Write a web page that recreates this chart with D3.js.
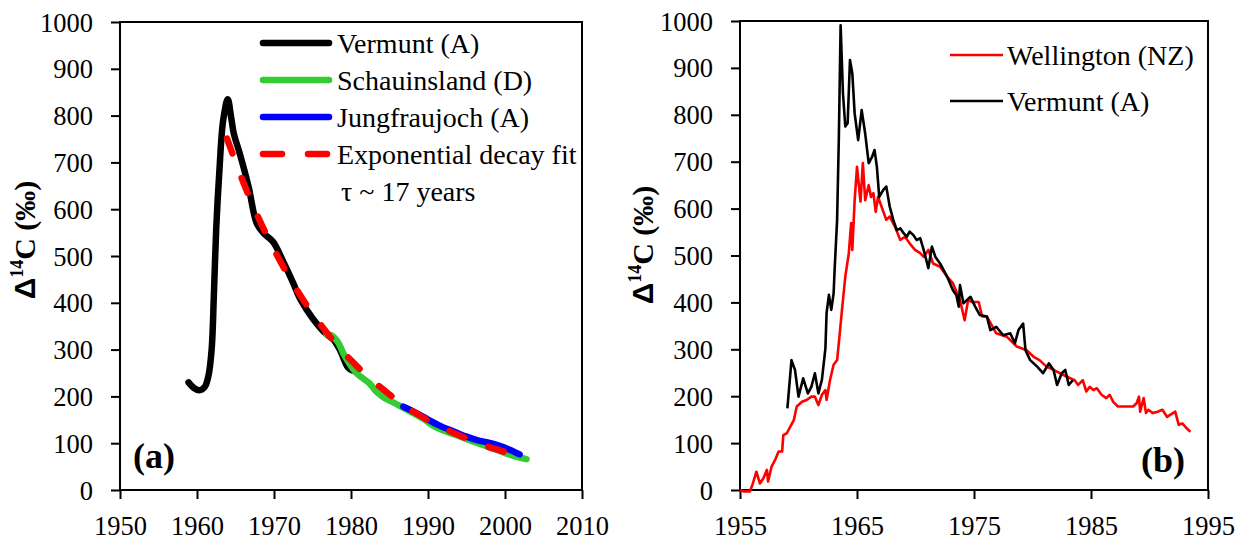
<!DOCTYPE html>
<html>
<head>
<meta charset="utf-8">
<script src="https://cdn.jsdelivr.net/npm/d3@7"></script>
<style>
  html, body { margin: 0; padding: 0; background: #fff; }
  svg { display: block; }
</style>
</head>
<body>
<svg id="chart" width="1245" height="547"></svg>
<script>
// ---- Panel (a): smoothed station records and exponential decay fit ----
const aVermunt = [
  [1958.9, 230], [1959.6, 218], [1960.3, 213], [1961.0, 220], [1961.5, 245],
  [1961.9, 300], [1962.2, 420], [1962.5, 560], [1962.9, 680], [1963.4, 790],
  [1964.0, 835], [1964.4, 800], [1964.8, 760], [1965.5, 722], [1966.7, 648],
  [1967.75, 570], [1968.7, 548], [1969.9, 530], [1971.2, 488], [1972.5, 442],
  [1973.4, 408], [1975.1, 365], [1976.8, 333], [1977.7, 322], [1978.6, 298],
  [1979.6, 262], [1980.2, 255]
];
const aSchauinsland = [
  [1976.8, 333], [1977.4, 331], [1978.3, 316], [1979.0, 292], [1979.8, 270],
  [1980.7, 250], [1981.6, 238], [1982.4, 228], [1983.3, 210], [1984.4, 196],
  [1985.3, 189], [1987.2, 172], [1989.4, 152], [1990.7, 137], [1992.5, 124],
  [1994.2, 114], [1996.3, 101], [1998.9, 86], [2001.1, 73], [2002.8, 66]
];
const aJungfraujoch = [
  [1986.8, 178], [1987.7, 171], [1989.4, 156], [1991.6, 137], [1993.5, 124],
  [1995.0, 114], [1996.5, 106], [1997.6, 102], [1999.4, 94], [2000.6, 86],
  [2001.9, 76]
];
const aDecayFit = [
  [1963.9, 751], [1966, 658], [1968, 581], [1970, 514], [1972.5, 440],
  [1975, 377], [1977.5, 323], [1980, 277], [1982.5, 238], [1985, 204],
  [1987.5, 174], [1990, 149], [1992.5, 128], [1995, 110], [1997.5, 94],
  [2000, 81], [2002.8, 68]
];
const aLegend = ["Vermunt (A)", "Schauinsland (D)", "Jungfraujoch (A)", "Exponential decay fit"];
const aLegendNote = "τ ~ 17 years";
const aXTicks = [1950, 1960, 1970, 1980, 1990, 2000, 2010];

// ---- Panel (b): monthly records, Wellington and Vermunt ----
const bWellington = [
  [1955.0, 0], [1955.3, -3], [1955.85, -3], [1956.1, 14], [1956.4, 39], [1956.7, 14],
  [1957.0, 25], [1957.3, 43], [1957.4, 18], [1957.7, 50], [1958.0, 64], [1958.3, 82],
  [1958.6, 82], [1958.7, 117], [1959.0, 121], [1959.3, 135], [1959.6, 149], [1959.85, 178],
  [1960.3, 188], [1960.7, 192], [1961.1, 199], [1961.4, 199], [1961.7, 181], [1962.0, 203],
  [1962.3, 213], [1962.4, 192], [1962.7, 235], [1963.0, 267], [1963.3, 277], [1963.5, 327],
  [1963.7, 380], [1964.0, 455], [1964.3, 505], [1964.5, 569], [1964.6, 512], [1964.8, 618],
  [1965.0, 689], [1965.3, 615], [1965.5, 697], [1965.7, 618], [1966.0, 650], [1966.2, 625],
  [1966.4, 633], [1966.6, 593], [1966.8, 625], [1967.1, 604], [1967.5, 576], [1967.8, 583],
  [1968.25, 561], [1968.7, 533], [1969.1, 540], [1969.5, 526], [1969.96, 512], [1970.4, 505],
  [1970.7, 497], [1971.1, 512], [1971.5, 483], [1972.1, 476], [1972.7, 455], [1973.2, 441],
  [1973.8, 405], [1974.2, 362], [1974.5, 405], [1974.8, 401], [1975.4, 401], [1975.7, 370],
  [1976.1, 370], [1976.9, 334], [1977.8, 327], [1978.65, 306], [1979.5, 298], [1980.1, 284],
  [1980.6, 277], [1981.2, 263], [1981.8, 256], [1982.9, 242], [1983.6, 234], [1983.9, 224],
  [1984.3, 234], [1984.6, 210], [1984.9, 220], [1985.2, 213], [1985.5, 217], [1985.9, 203],
  [1986.3, 196], [1986.6, 203], [1986.9, 188], [1987.3, 178], [1988.05, 178], [1988.6, 178],
  [1988.9, 185], [1989.1, 199], [1989.2, 167], [1989.5, 196], [1989.7, 164], [1989.9, 171],
  [1990.3, 164], [1990.7, 167], [1991.1, 171], [1991.5, 156], [1992.0, 164], [1992.2, 167],
  [1992.5, 139], [1992.8, 142], [1993.2, 131], [1993.5, 124]
];
const bVermunt = [
  [1959.05, 174], [1959.4, 277], [1959.7, 256], [1960.0, 199], [1960.4, 238], [1960.8, 206],
  [1961.1, 220], [1961.4, 249], [1961.7, 206], [1962.0, 235], [1962.3, 302], [1962.4, 377],
  [1962.6, 416], [1962.8, 384], [1963.0, 419], [1963.1, 476], [1963.3, 576], [1963.45, 753],
  [1963.6, 991], [1963.8, 846], [1964.0, 775], [1964.2, 782], [1964.4, 917], [1964.6, 888],
  [1964.8, 803], [1965.1, 746], [1965.4, 810], [1965.7, 760], [1966.0, 697], [1966.3, 711],
  [1966.5, 725], [1966.7, 689], [1966.9, 625], [1967.25, 640], [1967.5, 647], [1967.8, 604],
  [1968.1, 576], [1968.4, 554], [1968.7, 558], [1969.0, 547], [1969.25, 540], [1969.5, 551],
  [1969.8, 544], [1970.1, 533], [1970.4, 537], [1970.7, 512], [1971.1, 473], [1971.4, 519],
  [1971.7, 497], [1972.1, 483], [1972.7, 455], [1973.2, 426], [1973.5, 415], [1973.7, 391],
  [1973.8, 437], [1974.1, 398], [1974.7, 412], [1975.1, 391], [1975.5, 373], [1976.1, 370],
  [1976.4, 341], [1976.9, 348], [1977.5, 330], [1978.1, 334], [1978.5, 313], [1978.8, 341],
  [1979.2, 355], [1979.4, 298], [1979.8, 277], [1980.4, 263], [1980.9, 249], [1981.4, 270],
  [1981.8, 256], [1982.1, 224], [1982.5, 249], [1982.8, 256], [1983.1, 224], [1983.45, 234]
];
const bLegend = ["Wellington (NZ)", "Vermunt (A)"];
const bXTicks = [1955, 1965, 1975, 1985, 1995];

const yTicks = [0, 100, 200, 300, 400, 500, 600, 700, 800, 900, 1000];

const SERIF = "'Liberation Serif', 'DejaVu Serif', serif";
const SANS = "'Liberation Sans', 'DejaVu Sans', sans-serif";

const svg = d3.select("#chart");

// Axes frame, ticks and labels for one panel; returns its scales
function drawFrame(p) {
  const x = d3.scaleLinear().domain(p.xDomain).range([p.left, p.right]);
  const y = d3.scaleLinear().domain([0, 1000]).range([p.bottom, p.top]);
  const g = svg.append("g");

  // frame box
  g.append("rect")
    .attr("x", p.left).attr("y", p.top)
    .attr("width", p.right - p.left).attr("height", p.bottom - p.top)
    .attr("fill", "none").attr("stroke", "#000").attr("stroke-width", 2);

  const xAxis = d3.axisBottom(x).tickValues(p.xTicks).tickSize(9).tickPadding(17).tickFormat(d3.format("d"));
  const gx = g.append("g").attr("transform", `translate(0,${p.bottom})`).call(xAxis);
  const yAxis = d3.axisLeft(y).tickValues(yTicks).tickSize(9).tickPadding(18).tickFormat(d3.format("d"));
  const gy = g.append("g").attr("transform", `translate(${p.left},0)`).call(yAxis);

  [gx, gy].forEach(a => {
    a.select(".domain").remove();
    a.selectAll(".tick line").attr("stroke", "#000").attr("stroke-width", 2);
    a.selectAll(".tick text")
      .style("font-family", SERIF)
      .style("font-size", "26.5px").style("fill", "#000");
  });
  gy.selectAll(".tick text").attr("dy", "0.34em");

  // y axis title: Δ14C (‰)
  const t = g.append("text")
    .attr("transform", `translate(${p.titleX},${p.titleY}) rotate(-90)`)
    .attr("text-anchor", "middle")
    .style("font-family", SERIF)
    .style("font-weight", "bold")
    .style("font-size", "30px");
  t.append("tspan").style("font-family", SANS).text("Δ");
  t.append("tspan").style("font-size", "18px").attr("dy", -12).text("14");
  t.append("tspan").attr("dy", 12).text("C (‰)");

  // panel tag
  g.append("text")
    .attr("x", p.tagX).attr("y", p.tagY)
    .style("font-family", SERIF)
    .style("font-weight", "bold").style("font-size", "36px")
    .text(p.tag);

  return { x, y };
}

// ---------- Panel (a) ----------
const pa = drawFrame({
  xDomain: [1950, 2010], left: 120, right: 582, top: 22, bottom: 490,
  xTicks: aXTicks, titleX: 35, titleY: 240, tag: "(a)", tagX: 133, tagY: 468
});

const smooth = d3.line()
  .x(d => pa.x(d[0])).y(d => pa.y(d[1]))
  .curve(d3.curveCatmullRom.alpha(0.5));

const aSeries = [
  { data: aVermunt, color: "#000000", dash: null },
  { data: aSchauinsland, color: "#33cc33", dash: null },
  { data: aJungfraujoch, color: "#0000ff", dash: null },
  { data: aDecayFit, color: "#ff0000", dash: "16 26" }
];

aSeries.forEach(s => {
  svg.append("path")
    .attr("d", smooth(s.data))
    .attr("fill", "none")
    .attr("stroke", s.color)
    .attr("stroke-width", 6.5)
    .attr("stroke-linecap", "round")
    .attr("stroke-linejoin", "round")
    .attr("stroke-dasharray", s.dash);
});

// legend (a)
const aLeg = svg.append("g");
aSeries.forEach((s, i) => {
  const yy = 43 + i * 37;
  aLeg.append("line")
    .attr("x1", 263).attr("x2", 329).attr("y1", yy).attr("y2", yy)
    .attr("stroke", s.color).attr("stroke-width", 6.5)
    .attr("stroke-linecap", "round")
    .attr("stroke-dasharray", s.dash ? "19 26" : null);
  aLeg.append("text")
    .attr("x", 337).attr("y", yy).attr("dy", "0.34em")
    .style("font-family", SERIF).style("font-size", "28px")
    .text(aLegend[i]);
});
aLeg.append("text")
  .attr("x", 341).attr("y", 43 + 4 * 37).attr("dy", "0.34em")
  .style("font-family", SERIF).style("font-size", "28px")
  .text(aLegendNote);

// ---------- Panel (b) ----------
const pb = drawFrame({
  xDomain: [1955, 1995], left: 740, right: 1208, top: 21, bottom: 490,
  xTicks: bXTicks, titleX: 653, titleY: 245, tag: "(b)", tagX: 1141, tagY: 472
});

const raw = d3.line().x(d => pb.x(d[0])).y(d => pb.y(d[1]));

const bSeries = [
  { data: bWellington, color: "#ff0000" },
  { data: bVermunt, color: "#000000" }
];
bSeries.forEach(s => {
  svg.append("path")
    .attr("d", raw(s.data))
    .attr("fill", "none")
    .attr("stroke", s.color)
    .attr("stroke-width", 2.6)
    .attr("stroke-linejoin", "round");
});

// legend (b)
const bLeg = svg.append("g");
bSeries.forEach((s, i) => {
  const yy = 55 + i * 46;
  bLeg.append("line")
    .attr("x1", 950).attr("x2", 1003).attr("y1", yy).attr("y2", yy)
    .attr("stroke", s.color).attr("stroke-width", 2.6);
  bLeg.append("text")
    .attr("x", 1007).attr("y", yy).attr("dy", "0.34em")
    .style("font-family", SERIF).style("font-size", "28px")
    .text(bLegend[i]);
});
</script>
</body>
</html>
